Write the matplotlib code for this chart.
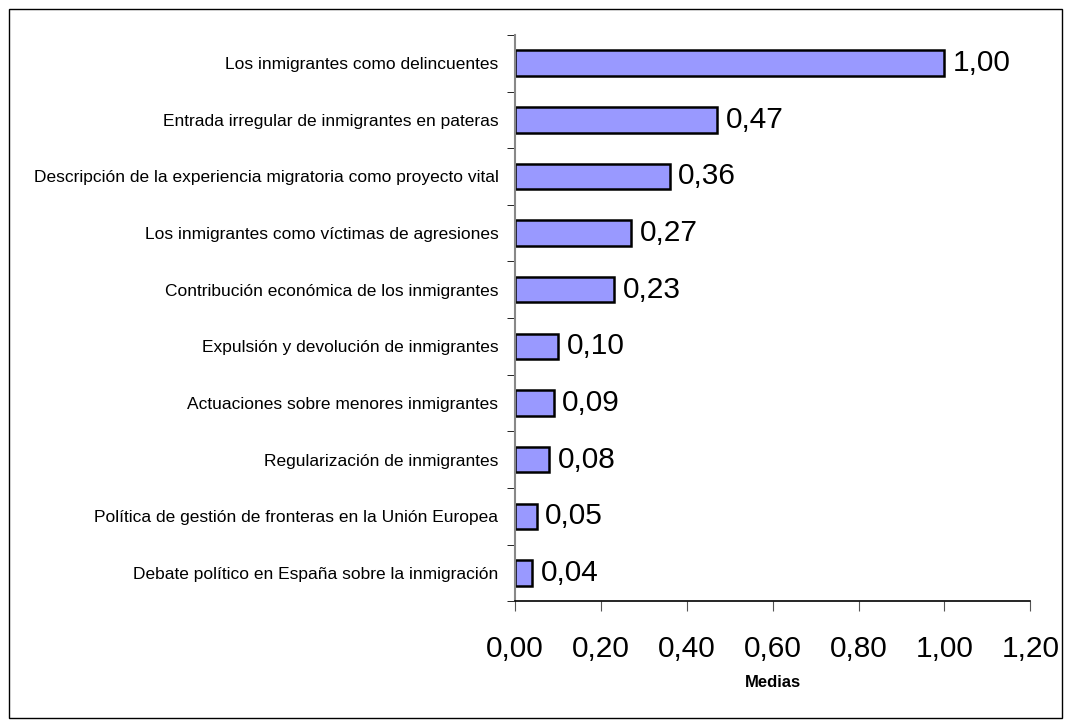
import matplotlib.pyplot as plt
import numpy as np
from matplotlib.patches import Rectangle

categorias = ['Los inmigrantes como delincuentes',
              'Entrada irregular de inmigrantes en pateras',
              'Descripción de la experiencia migratoria como proyecto vital',
              'Los inmigrantes como víctimas de agresiones',
              'Contribución económica de los inmigrantes',
              'Expulsión y devolución de inmigrantes',
              'Actuaciones sobre menores inmigrantes',
              'Regularización de inmigrantes',
              'Política de gestión de fronteras en la Unión Europea',
              'Debate político en España sobre la inmigración']
medias = [1.00, 0.47, 0.36, 0.27, 0.23, 0.10, 0.09, 0.08, 0.05, 0.04]
xticks = [0.0, 0.2, 0.4, 0.6, 0.8, 1.0, 1.2]

plt.rcParams['font.family'] = ['Liberation Sans', 'DejaVu Sans']

fig = plt.figure(figsize=(10.71, 7.27), dpi=100)
fig.patches.append(Rectangle((0.008, 0.012), 0.984, 0.976, transform=fig.transFigure,
                             fill=False, edgecolor='black', linewidth=1))
ax = fig.add_axes([0.481, 0.173, 0.481, 0.779])

y = np.arange(len(categorias))
ax.barh(y, medias, height=0.45, color='#9999ff', edgecolor='black', linewidth=1.8)
for yi, v in zip(y, medias):
    ax.text(v + 0.02, yi, f'{v:.2f}'.replace('.', ','), va='center', ha='left', fontsize=21.5)

ax.set_ylim(len(categorias) - 0.5, -0.5)
ax.set_xlim(0, 1.2)
ax.set_yticks(y)
ax.set_yticklabels(categorias, fontsize=12.5)
ax.set_yticks(np.arange(len(categorias) + 1) - 0.5, minor=True)
ax.tick_params(axis='y', which='major', length=0, pad=12)
ax.tick_params(axis='y', which='minor', length=6, color='black')
ax.set_xticks(xticks)
ax.set_xticklabels([f'{t:.2f}'.replace('.', ',') for t in xticks], fontsize=21.5)
ax.tick_params(axis='x', length=7, color='#555555', pad=17)
ax.set_xlabel('Medias', fontsize=12, fontweight='bold', labelpad=9)

for s in ['top', 'right']:
    ax.spines[s].set_visible(False)
ax.spines['left'].set_color('#888888')
ax.spines['left'].set_linewidth(1.5)
ax.spines['bottom'].set_linewidth(1.2)

fig.savefig('out.png', dpi=100)
